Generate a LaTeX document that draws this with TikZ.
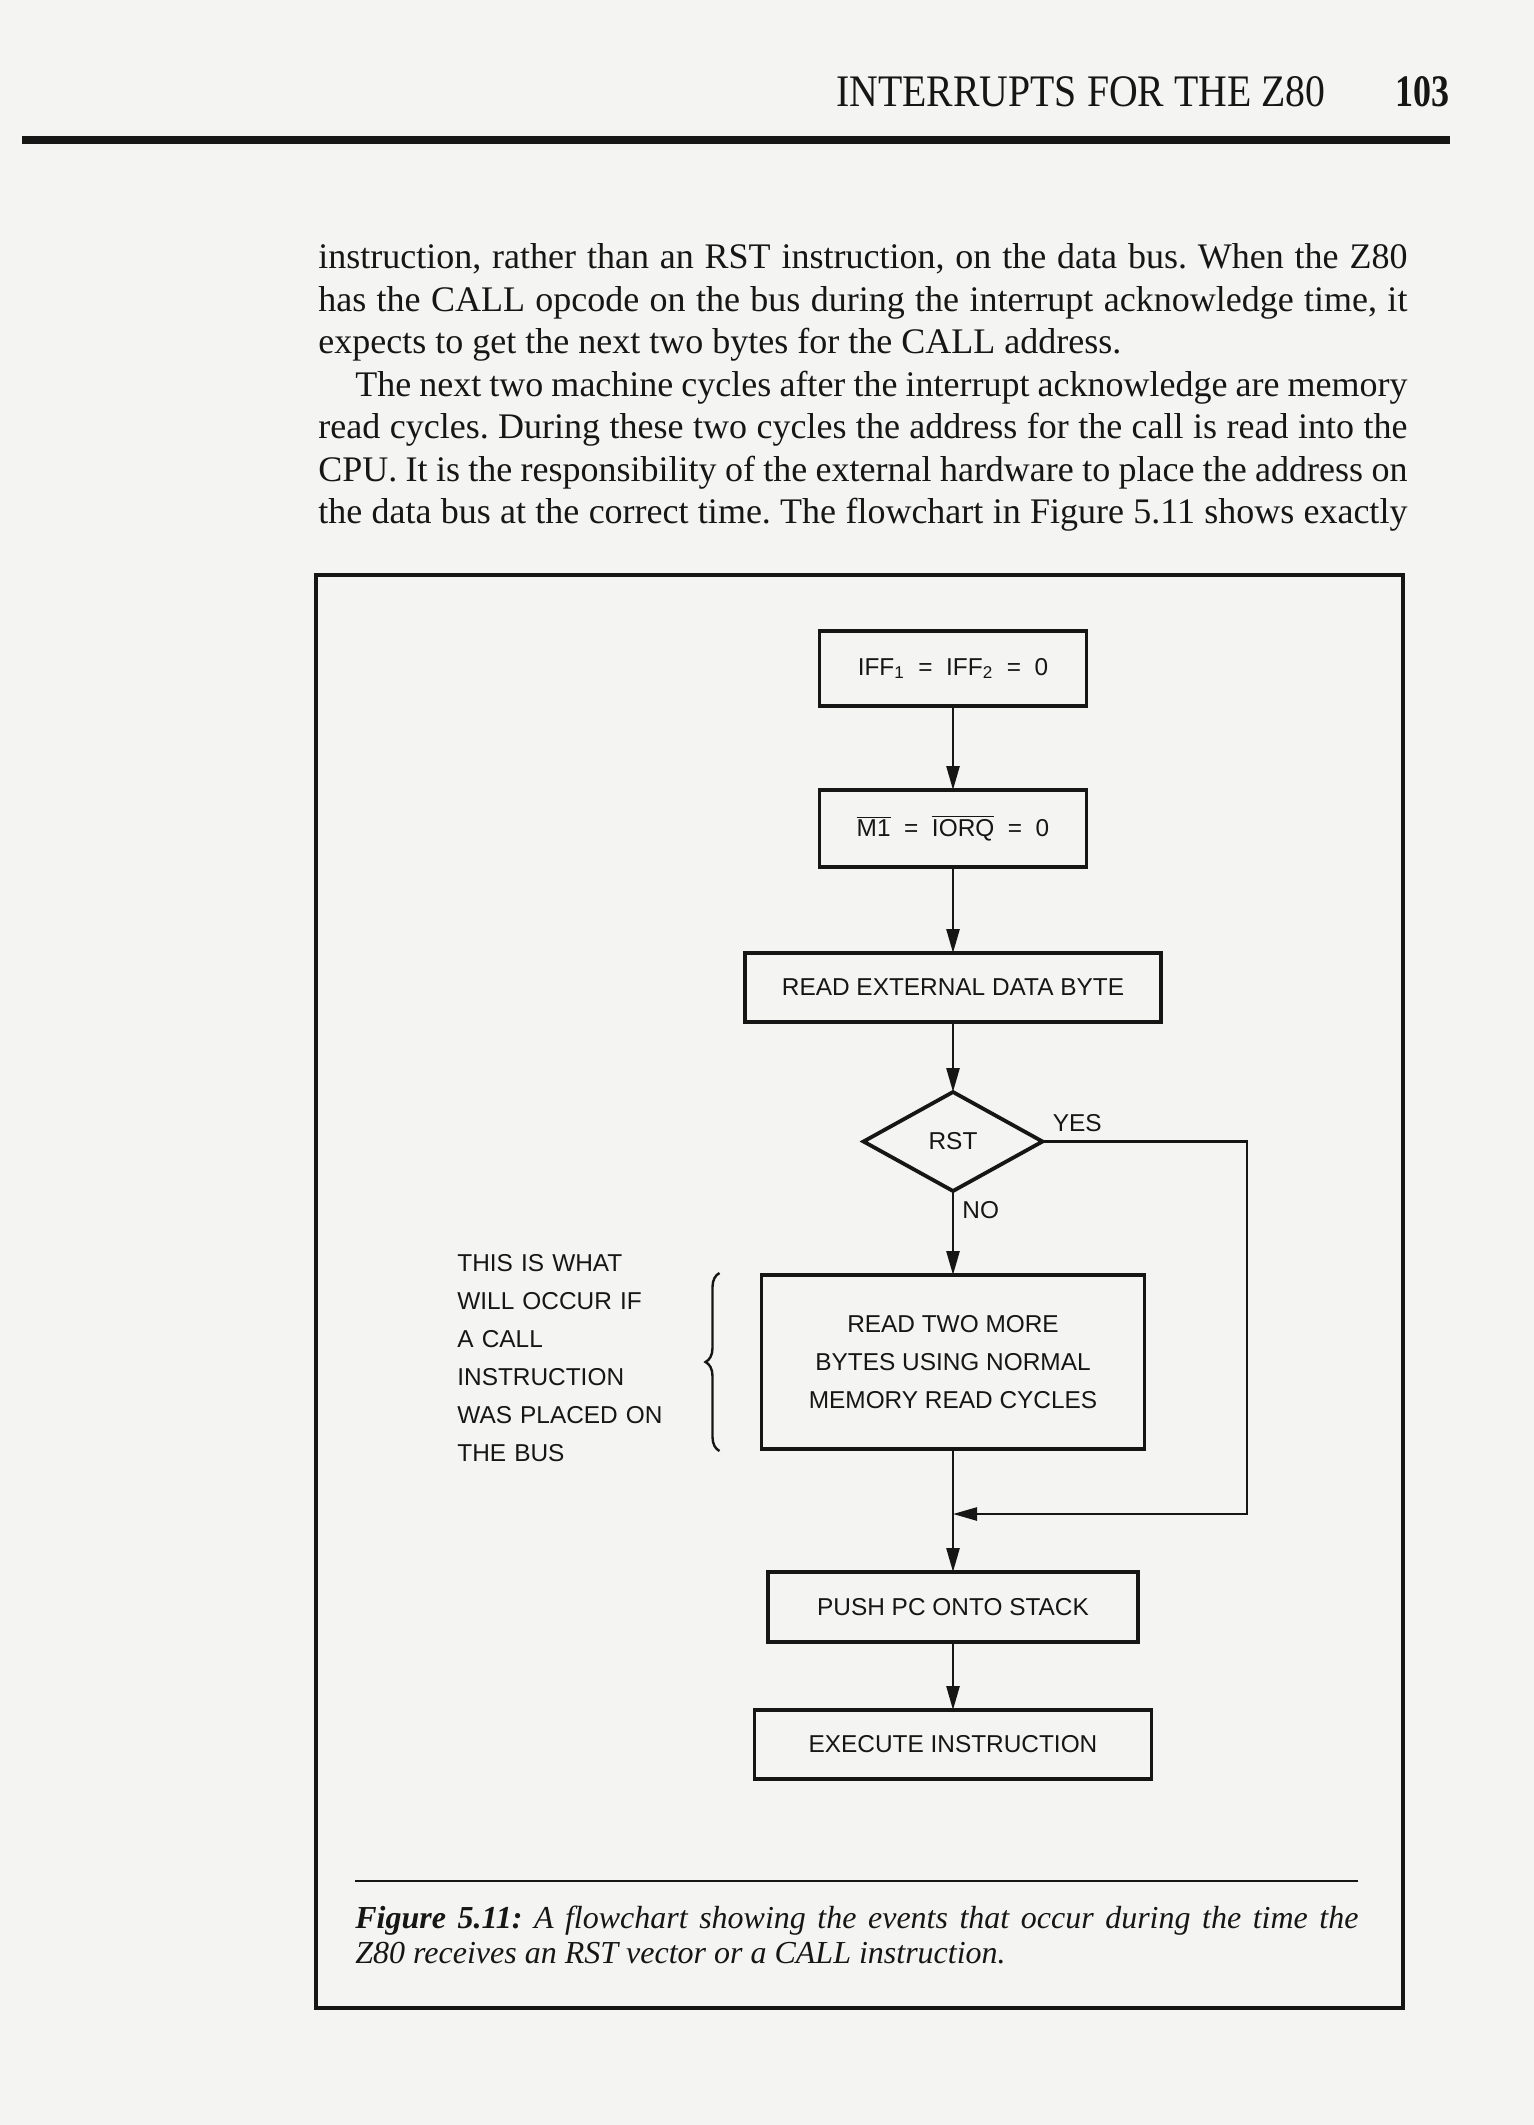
\documentclass[tikz,border=0pt]{standalone}
\usepackage{graphicx}
\usepackage{fontspec}
\setmainfont{Liberation Serif}
\newfontfamily\chartfont{Liberation Sans}
\newfontfamily\bodyfont{Liberation Serif}
\usetikzlibrary{positioning,arrows.meta,shapes.geometric,decorations.pathreplacing}
\definecolor{paper}{RGB}{244,244,242}
\definecolor{ink}{RGB}{22,22,22}
\frenchspacing
\tikzset{
	>={Triangle[length=12pt,width=6.5pt]},
	stepbox/.style={
		rectangle,
		draw=ink, line width=1.9pt,
		inner sep=2pt, outer sep=0pt,
		text=ink,
		align=center,
		font=\chartfont\fontsize{12.2}{19}\selectfont},
	testbox/.style={
		diamond,
		draw=ink, line width=1.9pt,
		inner sep=0pt, outer sep=0pt,
		minimum width=89.5pt,
		minimum height=49.5pt,
		text=ink,
		font=\chartfont\fontsize{12.2}{19}\selectfont},
	line/.style={draw=ink, line width=1.3pt, ->},
	chartlabel/.style={inner sep=0pt, text=ink, font=\chartfont\fontsize{12.2}{19}\selectfont},
	bodyline/.style={inner sep=0pt, anchor=base west, text=ink, font=\bodyfont\fontsize{18}{21}\selectfont\frenchspacing},
	captext/.style={inner sep=0pt, anchor=base west, text=ink, font=\itshape\fontsize{16}{17.5}\selectfont\frenchspacing},
	bracket/.style={decorate, decoration={brace, amplitude=7pt}, draw=ink, line width=1.2pt},
}

\begin{document}
\begin{tikzpicture}[x=0.5pt, y=-0.5pt]
\fill[paper] (0,0) rectangle (1534,2125);
\useasboundingbox (0,0) rectangle (1534,2125);

% running head
\node[inner sep=0pt, anchor=base west, text=ink] (runhead) at (836,107) {\resizebox{244.5pt}{15pt}{INTERRUPTS FOR THE Z80}};
\node[inner sep=0pt, anchor=base east, text=ink] (pagenum) at (1450,107) {\resizebox{27pt}{15pt}{\bfseries 103}};
\draw[ink, line width=4pt] (22,140) -- (1450,140);

% text of the page
\node[bodyline] (textone) at (318,268) {\makebox[544.5pt][s]{instruction, rather than an RST instruction, on the data bus. When the Z80}};
\node[bodyline] (texttwo) at (318,311) {\makebox[544.5pt][s]{has the CALL opcode on the bus during the interrupt acknowledge time, it}};
\node[bodyline] (textthree) at (318,353) {expects to get the next two bytes for the CALL address.};
\node[bodyline] (textfour) at (355,396) {\makebox[526pt][s]{The next two machine cycles after the interrupt acknowledge are memory}};
\node[bodyline] (textfive) at (318,438) {\makebox[544.5pt][s]{read cycles. During these two cycles the address for the call is read into the}};
\node[bodyline] (textsix) at (318,481) {\makebox[544.5pt][s]{CPU. It is the responsibility of the external hardware to place the address on}};
\node[bodyline] (textseven) at (318,523) {\makebox[544.5pt][s]{the data bus at the correct time. The flowchart in Figure 5.11 shows exactly}};

% figure frame
\draw[ink, line width=1.8pt] (316,575) rectangle (1403,2008);

% flowchart
\node[stepbox, minimum width=133.5pt, minimum height=37.5pt] (iff) at (953,668.5) {IFF\textsubscript{1} ~=~ IFF\textsubscript{2} ~=~ 0};
\node[stepbox, below=42pt of iff, minimum width=133.5pt, minimum height=38.5pt] (mone) {$\overline{\hbox{M1}}$ ~=~ $\overline{\hbox{IORQ}}$ ~=~ 0};
\node[stepbox, below=43pt of mone, minimum width=208pt, minimum height=34.5pt] (readext) {READ EXTERNAL DATA BYTE};
\node[testbox, below=35pt of readext] (rst) {RST};
\node[stepbox, below=42pt of rst, minimum width=191.5pt, minimum height=87pt] (readtwo) {READ TWO MORE\\BYTES USING NORMAL\\MEMORY READ CYCLES};
\node[stepbox, below=61.5pt of readtwo, minimum width=185pt, minimum height=35pt] (pushpc) {PUSH PC ONTO STACK};
\node[stepbox, below=34pt of pushpc, minimum width=198.5pt, minimum height=34.5pt] (exec) {EXECUTE INSTRUCTION};

\node[chartlabel, anchor=base west] (yes) at ([xshift=5pt,yshift=5pt]rst.east) {YES};
\node[chartlabel, anchor=north west] (no) at ([xshift=4.5pt,yshift=-5pt]rst.south) {NO};

\node[chartlabel, anchor=north west, text width=120pt, align=left] (callnote) at (457,1254.5) {THIS IS WHAT\\WILL OCCUR IF\\A CALL\\INSTRUCTION\\WAS PLACED ON\\THE BUS};
\draw[bracket] ([xshift=-21pt,yshift=-1pt]readtwo.south west) -- ([xshift=-21pt,yshift=1pt]readtwo.north west);

\draw[line] (iff) -- (mone);
\draw[line] (mone) -- (readext);
\draw[line] (readext) -- (rst);
\draw[line] (rst) -- (readtwo);
\draw[line] (readtwo) -- (pushpc);
\draw[line] (pushpc) -- (exec);
\coordinate (bypass) at (1247,1514);
\coordinate (merge) at (readtwo.south |- bypass);
\draw[line] (rst.east) -| (bypass) -- (merge);

% caption
\draw[ink, line width=1.4pt] (355,1881) -- (1358,1881);
\node[captext] (capone) at (355,1928) {\makebox[501.5pt][s]{\textbf{Figure 5.11:} A flowchart showing the events that occur during the time the}};
\node[captext] (captwo) at (355,1963) {Z80 receives an RST vector or a CALL instruction.};
\end{tikzpicture}
\end{document}
